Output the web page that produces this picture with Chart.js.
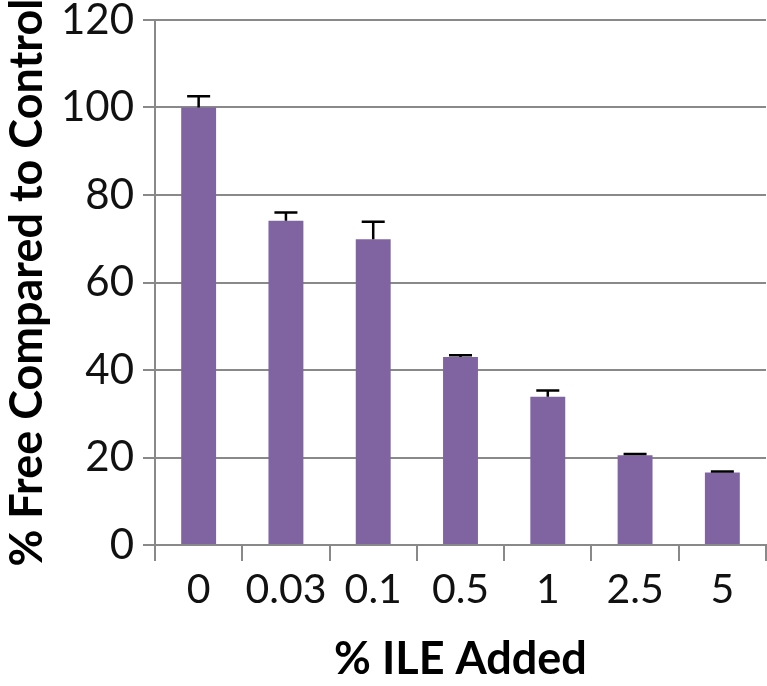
<!DOCTYPE html>
<html>
<head>
<meta charset="utf-8">
<script src="https://cdn.jsdelivr.net/npm/chart.js@4"></script>
<style>
  html, body { margin: 0; padding: 0; background: #fff; }
  #wrap { width: 767px; height: 686px; position: relative; }
</style>
</head>
<body>
<div id="wrap"><canvas id="c" width="767" height="686"></canvas></div>
<script>
const categories = ["0", "0.03", "0.1", "0.5", "1", "2.5", "5"];
const values = [100, 74.1, 69.9, 43.0, 33.9, 20.5, 16.6];
const errorsUp = [2.6, 1.9, 4.0, 0.4, 1.4, 0.3, 0.2];
const yTicks = [0, 20, 40, 60, 80, 100, 120];

const errorBarPlugin = {
  id: 'errorBars',
  afterDatasetsDraw(chart) {
    const ctx = chart.ctx;
    const meta = chart.getDatasetMeta(0);
    const yScale = chart.scales.y;
    ctx.save();
    ctx.strokeStyle = '#000';
    ctx.lineWidth = 2.5;
    meta.data.forEach((bar, i) => {
      const x = bar.x;
      const yTop = yScale.getPixelForValue(values[i]);
      const yErr = yScale.getPixelForValue(values[i] + errorsUp[i]);
      ctx.beginPath();
      ctx.moveTo(x, yTop);
      ctx.lineTo(x, yErr);
      ctx.moveTo(x - 11.5, yErr);
      ctx.lineTo(x + 11.5, yErr);
      ctx.stroke();
    });
    ctx.restore();
  }
};

const bgPlugin = {
  id: 'bg',
  beforeDraw(chart) {
    const ctx = chart.ctx;
    ctx.save();
    ctx.fillStyle = '#fff';
    ctx.fillRect(0, 0, chart.width, chart.height);
    ctx.restore();
  }
};

new Chart(document.getElementById('c'), {
  type: 'bar',
  data: {
    labels: categories,
    datasets: [{
      data: values,
      backgroundColor: '#8064A2',
      borderWidth: 0,
      categoryPercentage: 1.0,
      barPercentage: 0.4
    }]
  },
  options: {
    responsive: false,
    animation: false,
    devicePixelRatio: 1,
    layout: { padding: { top: 0, right: 1, left: 0, bottom: 0 } },
    plugins: { legend: { display: false }, tooltip: { enabled: false } },
    scales: {
      x: {
        offset: true,
        grid: {
          display: true,
          offset: true,
          drawOnChartArea: false,
          drawTicks: true,
          tickLength: 16,
          color: '#898989',
          lineWidth: 2
        },
        border: { display: true, color: '#898989', width: 2 },
        ticks: {
          font: { family: 'Lato', size: 41 },
          color: '#111',
          padding: 4,
          autoSkip: false,
          maxRotation: 0,
          minRotation: 0
        },
        title: {
          display: true,
          text: '% ILE Added',
          font: { family: 'Lato', size: 45, weight: 'bold' },
          color: '#000',
          padding: { top: 8, bottom: 0 }
        },
        afterFit(scale) { scale.height = 141; scale.paddingLeft = 0; scale.paddingRight = 0; }
      },
      y: {
        min: 0,
        max: 120,
        afterBuildTicks(scale) { scale.ticks = yTicks.map(v => ({ value: v })); },
        grid: {
          color: '#898989',
          lineWidth: 2,
          tickLength: 12,
          drawTicks: true
        },
        border: { display: true, color: '#898989', width: 2 },
        ticks: {
          font: { family: 'Lato', size: 42 },
          color: '#111',
          padding: 9
        },
        title: {
          display: true,
          text: '% Free Compared to Control',
          font: { family: 'Lato', size: 45, weight: 'bold' },
          color: '#000',
          padding: { top: 0, bottom: 2 }
        },
        afterFit(scale) { scale.width = 155; scale.paddingTop = 20; scale.paddingBottom = 0; }
      }
    }
  },
  plugins: [bgPlugin, errorBarPlugin]
});
</script>
</body>
</html>
